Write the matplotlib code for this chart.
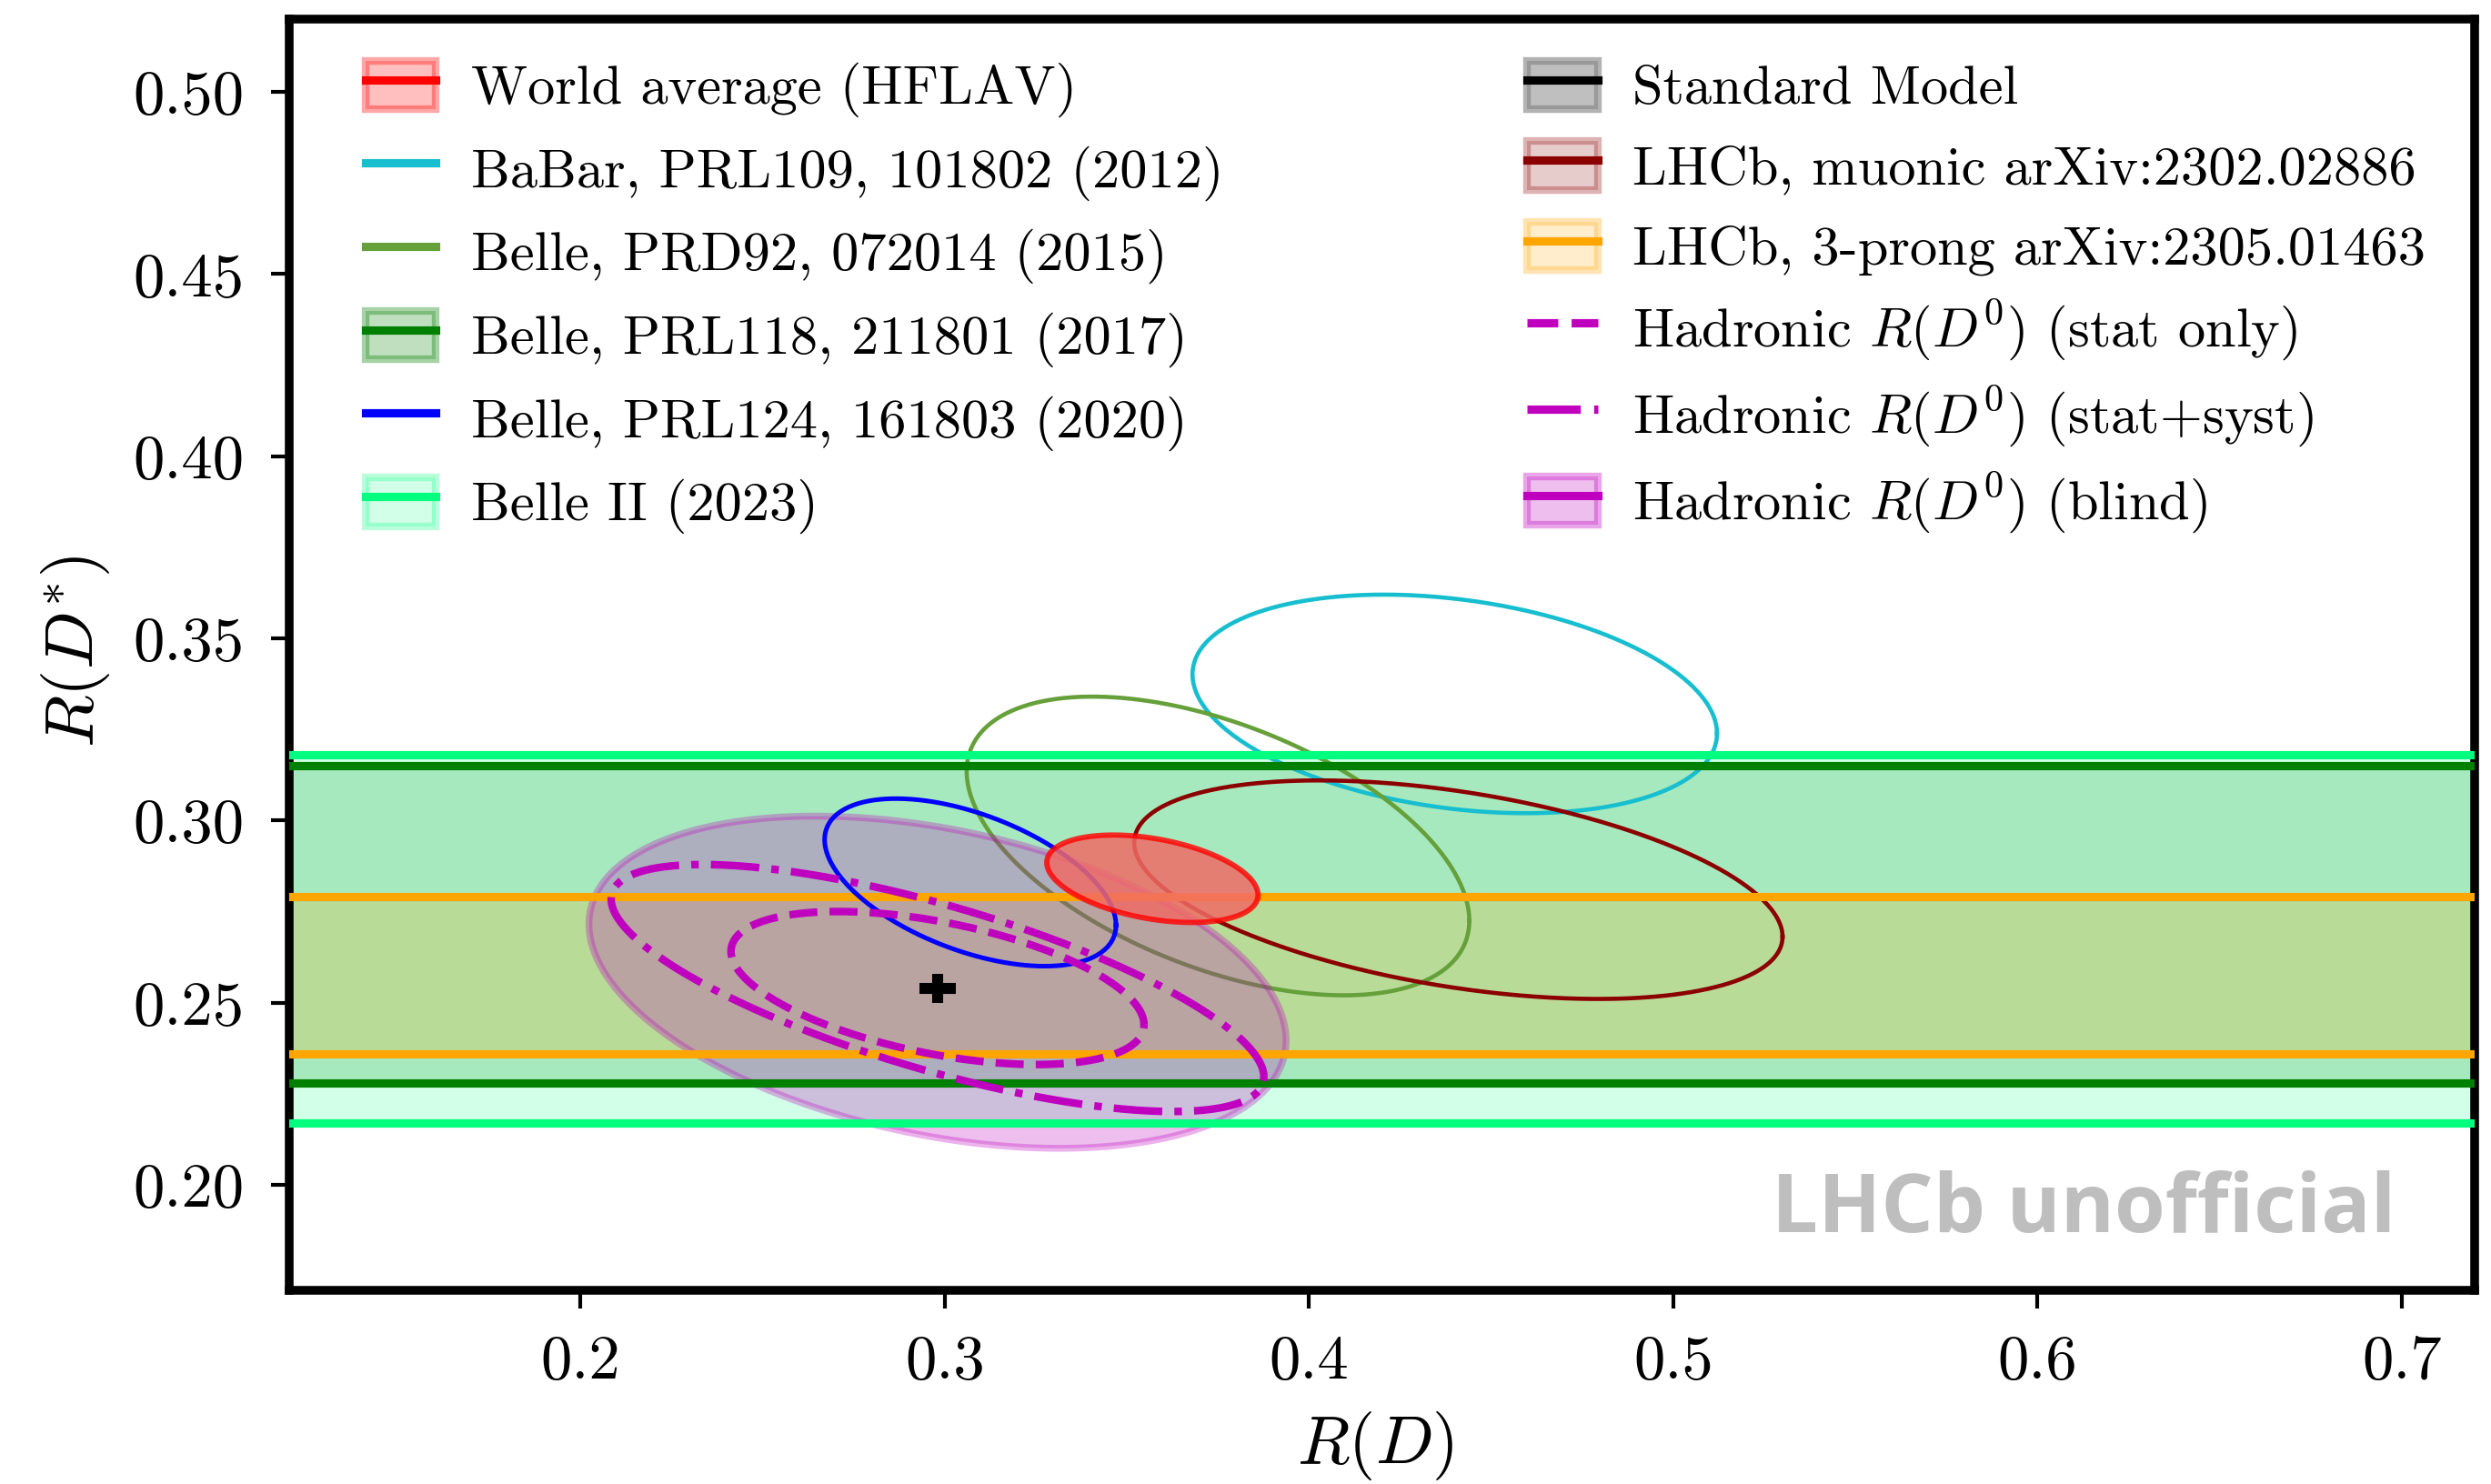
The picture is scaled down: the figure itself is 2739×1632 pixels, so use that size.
import numpy as np
import matplotlib
matplotlib.use("Agg")
import matplotlib.pyplot as plt
from matplotlib.patches import Patch, Rectangle
from matplotlib.lines import Line2D
from matplotlib.legend_handler import HandlerPatch
from matplotlib.ticker import FormatStrFormatter
from matplotlib.colors import to_rgba

plt.rcParams['font.family'] = 'cmr10'
plt.rcParams['mathtext.fontset'] = 'cm'
plt.rcParams['axes.formatter.use_mathtext'] = True

# 2D measurements (1 sigma contours): R(D), err, R(D*), err, correlation
ell_keys = ['hflav', 'babar', 'belle15', 'belle20', 'lhcb_mu']
ell_rd = [0.357, 0.440, 0.375, 0.307, 0.441]
ell_rd_err = [0.029, 0.072, 0.069, 0.040, 0.089]
ell_rds = [0.284, 0.332, 0.293, 0.283, 0.281]
ell_rds_err = [0.012, 0.030, 0.041, 0.023, 0.030]
ell_rho = [-0.37, -0.27, -0.50, -0.51, -0.43]

# R(D*) only measurements -> horizontal bands
band_keys = ['belle17', 'belle2', 'lhcb_3p']
band_val = [0.2715, 0.2675, 0.2575]
band_err = [0.0435, 0.0505, 0.0215]

# hadronic R(D0) projections (blind, centred on SM)
had_keys = ['stat', 'syst', 'blind']
had_rd = [0.298, 0.298, 0.298]
had_rd_err = [0.0567, 0.0896, 0.0957]
had_rds = [0.254, 0.254, 0.2556]
had_rds_err = [0.021, 0.0339, 0.0456]
had_rho = [-0.48, -0.72, -0.35]

# standard model
sm_rd, sm_rd_err = 0.298, 0.005
sm_rds, sm_rds_err = 0.254, 0.004

labels = {
    'hflav': 'World average (HFLAV)',
    'babar': 'BaBar, PRL109, 101802 (2012)',
    'belle15': 'Belle, PRD92, 072014 (2015)',
    'belle17': 'Belle, PRL118, 211801 (2017)',
    'belle20': 'Belle, PRL124, 161803 (2020)',
    'belle2': 'Belle II (2023)',
    'sm': 'Standard Model',
    'lhcb_mu': 'LHCb, muonic arXiv:2302.02886',
    'lhcb_3p': 'LHCb, 3-prong arXiv:2305.01463',
    'stat': r'Hadronic $R(D^0)$ (stat only)',
    'syst': r'Hadronic $R(D^0)$ (stat+syst)',
    'blind': r'Hadronic $R(D^0)$ (blind)',
}
colors = {
    'hflav': 'red', 'babar': '#17becf', 'belle15': '#66a03a', 'belle17': 'green',
    'belle20': 'blue', 'belle2': 'springgreen', 'sm': 'black', 'lhcb_mu': 'darkred',
    'lhcb_3p': 'orange', 'stat': 'm', 'syst': 'm', 'blind': 'm',
}


def ellipse_xy(cx, sx, cy, sy, rho, n=500):
    t = np.linspace(0, 2 * np.pi, n)
    x = cx + sx * np.cos(t)
    y = cy + sy * (rho * np.cos(t) + np.sqrt(1 - rho ** 2) * np.sin(t))
    return x, y


fig = plt.figure(figsize=(2739 / 300, 1632 / 300), dpi=300)
ax = fig.add_axes([0.1161, 0.1305, 0.8773, 0.8566])

# bands
band_alpha = {'belle17': 0.2, 'belle2': 0.18, 'lhcb_3p': 0.2}
for k, v, e in zip(band_keys, band_val, band_err):
    ax.axhspan(v - e, v + e, color=colors[k], alpha=band_alpha[k], lw=0, zorder=1)
    ax.axhline(v - e, color=colors[k], lw=2.2, zorder=4)
    ax.axhline(v + e, color=colors[k], lw=2.2, zorder=4)

# 2D ellipses
ell = {k: ellipse_xy(a, b, c, d, r) for k, a, b, c, d, r in
       zip(ell_keys, ell_rd, ell_rd_err, ell_rds, ell_rds_err, ell_rho)}
for k in ['babar', 'belle15', 'lhcb_mu']:
    ax.plot(*ell[k], color=colors[k], lw=1.1, zorder=2)
ax.plot(*ell['belle20'], color=colors['belle20'], lw=1.2, zorder=5)

had = {k: ellipse_xy(a, b, c, d, r) for k, a, b, c, d, r in
       zip(had_keys, had_rd, had_rd_err, had_rds, had_rds_err, had_rho)}
ax.fill(*had['blind'], facecolor=to_rgba('m', 0.25), edgecolor=to_rgba('m', 0.3), lw=1.8, zorder=3)
ax.plot(*had['stat'], color='m', lw=2, ls='--', zorder=5)
ax.plot(*had['syst'], color='m', lw=2, ls='-.', zorder=5)

ax.errorbar(sm_rd, sm_rds, xerr=sm_rd_err, yerr=sm_rds_err, color='black', lw=2.9, capsize=0, zorder=6)

ax.fill(*ell['hflav'], facecolor=(0.94, 0.42, 0.40, 0.85), edgecolor=to_rgba('red', 0.8), lw=1.4, zorder=7)

ax.set_xlim(0.12, 0.72)
ax.set_ylim(0.171, 0.52)
ax.set_xticks([0.2, 0.3, 0.4, 0.5, 0.6, 0.7])
ax.set_yticks([0.20, 0.25, 0.30, 0.35, 0.40, 0.45, 0.50])
ax.xaxis.set_major_formatter(FormatStrFormatter('%.1f'))
ax.yaxis.set_major_formatter(FormatStrFormatter('%.2f'))
ax.tick_params(labelsize=16.5, length=4.8, width=1, pad=7)
for s in ax.spines.values():
    s.set_linewidth(2.3)

ax.set_xlabel(r'$R(D)$', fontsize=18)
ax.set_ylabel(r'$R(D^{*})$', fontsize=18)
ax.xaxis.set_label_coords(0.497, -0.094)
ax.yaxis.set_label_coords(-0.081, 0.503)


def band_handle(k, fill_alpha=0.25):
    c = colors[k]
    p = Patch(facecolor=to_rgba(c, fill_alpha), edgecolor=to_rgba(c, fill_alpha + 0.1), lw=2)
    return (p, Line2D([], [], color=c, lw=2.2))


def small_rect(legend, orig_handle, xdescent, ydescent, width, height, fontsize):
    h = 0.88 * fontsize
    return Rectangle((-xdescent, -ydescent + (height - h) / 2), width, h)


handles = {
    'hflav': band_handle('hflav'),
    'babar': Line2D([], [], color=colors['babar'], lw=2.2),
    'belle15': Line2D([], [], color=colors['belle15'], lw=2.2),
    'belle17': band_handle('belle17'),
    'belle20': Line2D([], [], color=colors['belle20'], lw=2.2),
    'belle2': band_handle('belle2', 0.18),
    'sm': (Patch(facecolor=(0.5, 0.5, 0.5, 0.5), edgecolor=(0.5, 0.5, 0.5, 0.6), lw=2),
           Line2D([], [], color='black', lw=2.2)),
    'lhcb_mu': band_handle('lhcb_mu', 0.2),
    'lhcb_3p': band_handle('lhcb_3p', 0.2),
    'stat': Line2D([], [], color='m', lw=2.2, ls='--'),
    'syst': Line2D([], [], color='m', lw=2.2, ls='-.'),
    'blind': band_handle('blind'),
}
col1 = ['hflav', 'babar', 'belle15', 'belle17', 'belle20', 'belle2']
col2 = ['sm', 'lhcb_mu', 'lhcb_3p', 'stat', 'syst', 'blind']
leg_kw = dict(loc='upper left', frameon=False, fontsize=14.5, borderpad=0, borderaxespad=0,
              handlelength=1.28, handleheight=1.25, labelspacing=0.40, handletextpad=0.64,
              handler_map={Patch: HandlerPatch(patch_func=small_rect)})
leg1 = ax.legend([handles[k] for k in col1], [labels[k] for k in col1],
                 bbox_to_anchor=(0.035, 0.971), **leg_kw)
ax.add_artist(leg1)
ax.legend([handles[k] for k in col2], [labels[k] for k in col2],
          bbox_to_anchor=(0.5665, 0.971), **leg_kw)

ax.text(0.964, 0.0458, 'LHCb unofficial', transform=ax.transAxes, ha='right', va='baseline',
        fontsize=21.7, fontfamily='Open Sans', fontweight='bold', color='#bebebe', zorder=8)

fig.savefig('out.png', dpi=300)
